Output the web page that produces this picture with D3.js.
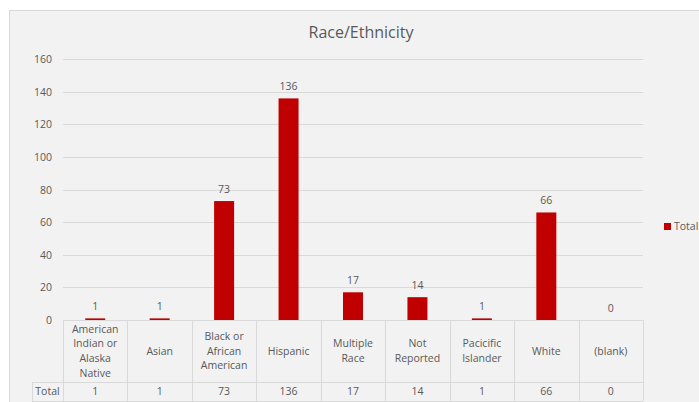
<!DOCTYPE html>
<html><head><meta charset="utf-8">
<script src="https://cdn.jsdelivr.net/npm/d3@7"></script>
<style>body{margin:0;background:#fff;}svg{display:block;font-family:"Open Sans",sans-serif;}</style>
</head><body>
<svg id="c" width="699" height="402"></svg>
<script>
const categories = ["American Indian or Alaska Native","Asian","Black or African American","Hispanic","Multiple Race","Not Reported","Pacicific Islander","White","(blank)"];
const categoryLines = [["American","Indian or","Alaska","Native"],["Asian"],["Black or","African","American"],["Hispanic"],["Multiple","Race"],["Not","Reported"],["Pacicific","Islander"],["White"],["(blank)"]];
const values = [1,1,73,136,17,14,1,66,0];
const yTicks = [0,20,40,60,80,100,120,140,160];
const seriesName = "Total";
const title = "Race/Ethnicity";

const svg = d3.select("#c");
const W = 699, H = 402;
const txt = "#595959", grid = "#d9d9d9", barColor = "#c00000";

svg.append("rect").attr("x",9.5).attr("y",10.5).attr("width",W).attr("height",H)
  .attr("fill","#f2f2f2").attr("stroke","#d9d9d9");

const pL = 63, pR = 643, pT = 59.3, pB = 320;
const x = d3.scaleBand().domain(categories).range([pL,pR]).paddingInner(0).paddingOuter(0);
const y = d3.scaleLinear().domain([0,160]).range([pB,pT]);

svg.append("text").attr("x",361).attr("y",38).attr("text-anchor","middle")
  .attr("font-size",16).attr("fill",txt).text(title);

// gridlines
svg.append("g").selectAll("line").data(yTicks.filter(d=>d>0)).join("line")
  .attr("x1",pL).attr("x2",pR).attr("y1",d=>Math.round(y(d))+0.5).attr("y2",d=>Math.round(y(d))+0.5)
  .attr("stroke",grid).attr("stroke-width",1);

// y axis labels
const yAxis = d3.axisLeft(y).tickValues(yTicks).tickSize(0).tickPadding(0);
const ga = svg.append("g").attr("transform",`translate(${52},0)`).call(yAxis);
ga.select(".domain").remove();
ga.selectAll("text").attr("font-size",10.5).attr("fill",txt).attr("font-family","Open Sans");

// bars
const bw = 20;
svg.append("g").selectAll("rect").data(values).join("rect")
  .attr("x",(d,i)=>x(categories[i])+x.bandwidth()/2-bw/2)
  .attr("width",bw)
  .attr("y",d=>y(d)).attr("height",d=>pB-y(d))
  .attr("fill",barColor);

// data labels
svg.append("g").selectAll("text").data(values).join("text")
  .attr("x",(d,i)=>x(categories[i])+x.bandwidth()/2)
  .attr("y",d=>y(d)-8)
  .attr("text-anchor","middle").attr("font-size",10.5).attr("fill",txt).text(d=>d);

// data table
const rowSep = 382, tBottom = 401, headL = 32;
const tg = svg.append("g").attr("stroke",grid).attr("stroke-width",1).attr("fill","none");
tg.append("line").attr("x1",pL).attr("x2",pR).attr("y1",pB+0.5).attr("y2",pB+0.5);
tg.append("line").attr("x1",headL).attr("x2",pR).attr("y1",rowSep+0.5).attr("y2",rowSep+0.5);
tg.append("line").attr("x1",headL).attr("x2",pR).attr("y1",tBottom+0.5).attr("y2",tBottom+0.5);
tg.append("line").attr("x1",headL+0.5).attr("x2",headL+0.5).attr("y1",rowSep).attr("y2",tBottom);
const bounds = categories.map(c=>x(c)).concat([pR]);
tg.selectAll("line.v").data(bounds).join("line").attr("class","v")
  .attr("x1",d=>Math.round(d)+0.5).attr("x2",d=>Math.round(d)+0.5).attr("y1",pB).attr("y2",tBottom);

const lh = 14.7;
categoryLines.forEach((lines,i)=>{
  const cx = x(categories[i])+x.bandwidth()/2;
  const cy = (pB+rowSep)/2;
  const y0 = cy - (lines.length-1)*lh/2;
  lines.forEach((l,j)=>{
    svg.append("text").attr("x",cx).attr("y",y0+j*lh).attr("dy","0.35em")
      .attr("text-anchor","middle").attr("font-size",10.5).attr("fill",txt).text(l);
  });
  svg.append("text").attr("x",cx).attr("y",(rowSep+tBottom)/2).attr("dy","0.35em")
    .attr("text-anchor","middle").attr("font-size",10.5).attr("fill",txt).text(values[i]);
});
svg.append("text").attr("x",(headL+pL)/2).attr("y",(rowSep+tBottom)/2).attr("dy","0.35em")
  .attr("text-anchor","middle").attr("font-size",10.5).attr("fill",txt).text(seriesName);

// legend
svg.append("rect").attr("x",664).attr("y",223).attr("width",7).attr("height",7).attr("fill",barColor);
svg.append("text").attr("x",674).attr("y",226.5).attr("dy","0.35em").attr("font-size",10.5).attr("fill",txt).text(seriesName);
</script>
</body></html>
